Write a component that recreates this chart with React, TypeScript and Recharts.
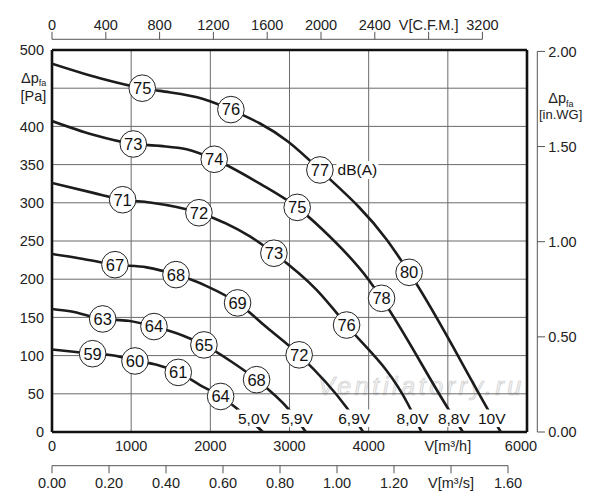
import React from 'react';
import { ComposedChart, Line, XAxis, YAxis, CartesianGrid, ReferenceLine } from 'recharts';

// ---------- data ----------
const flowTicks = [0, 1000, 2000, 3000, 4000, 5000, 6000];
const flowTickLabels = ['0', '1000', '2000', '3000', '4000', 'V[m³/h]', '6000'];
const cfmTicks = [0, 400, 800, 1200, 1600, 2000, 2400, 2800, 3200];
const cfmTickLabels = ['0', '400', '800', '1200', '1600', '2000', '2400', 'V[C.F.M.]', '3200'];
const msTicks = [0, 0.2, 0.4, 0.6, 0.8, 1.0, 1.2, 1.4, 1.6];
const msTickLabels = ['0.00', '0.20', '0.40', '0.60', '0.80', '1.00', '1.20', 'V[m³/s]', '1.60'];
const paTicks = [0, 50, 100, 150, 200, 250, 300, 350, 400, 450, 500];
const wgTicks = [0, 0.5, 1.0, 1.5, 2.0];
const wgTickLabels = ['0.00', '0.50', '1.00', '1.50', '2.00'];

const M3H_MAX = 6000;
const PA_MAX = 500;
const CFM_MAX = M3H_MAX / 1.69901;
const MS_MAX = M3H_MAX / 3600;
const WG_MAX = PA_MAX / 249.089;

// axis range anchors (no visible marks) for the secondary flow axes
const cfmRange = [{ q: 0 }, { q: CFM_MAX }];
const msRange = [{ q: 0 }, { q: MS_MAX }];

const curve5V0 = [
  { q: 0, p: 108 }, { q: 513, p: 102.5, db: 59 }, { q: 817, p: 99.5 }, { q: 1048, p: 93, db: 60 },
  { q: 1322, p: 88 }, { q: 1595, p: 78, db: 61 }, { q: 1869, p: 61.5 }, { q: 2130, p: 46.5, db: 64 },
  { q: 2332, p: 31 }, { q: 2664, p: 0, volt: '5,0V' },
];
const curve5V9 = [
  { q: 0, p: 161 }, { q: 227, p: 158 }, { q: 640, p: 148, db: 63 }, { q: 963, p: 145.5 },
  { q: 1288, p: 138, db: 64 }, { q: 1658, p: 126 }, { q: 1919, p: 114, db: 65 }, { q: 2268, p: 92 },
  { q: 2584, p: 68.5, db: 68 }, { q: 2996, p: 29 }, { q: 3207, p: 0, volt: '5,9V' },
];
const curve6V9 = [
  { q: 0, p: 233 }, { q: 395, p: 226.5 }, { q: 795, p: 219, db: 67 }, { q: 1196, p: 215.5 },
  { q: 1566, p: 206, db: 68 }, { q: 1953, p: 191 }, { q: 2344, p: 169, db: 69 }, { q: 2711, p: 137 },
  { q: 3122, p: 101, db: 72 }, { q: 3721, p: 32 }, { q: 3931, p: 0, volt: '6,9V' },
];
const curve8V0 = [
  { q: 0, p: 326 }, { q: 521, p: 313 }, { q: 892, p: 304, db: 71 }, { q: 1237, p: 300.5 },
  { q: 1856, p: 287, db: 72 }, { q: 2500, p: 256 }, { q: 2803, p: 234, db: 73 }, { q: 3342, p: 186 },
  { q: 3721, p: 140, db: 76 }, { q: 4499, p: 36 }, { q: 4668, p: 0, volt: '8,0V' },
];
const curve8V8 = [
  { q: 0, p: 407 }, { q: 521, p: 389 }, { q: 1027, p: 377, db: 73 }, { q: 1364, p: 374.5 },
  { q: 1700, p: 370 }, { q: 2049, p: 357, db: 74 }, { q: 2626, p: 325 }, { q: 3097, p: 294, db: 75 },
  { q: 3406, p: 266 }, { q: 3994, p: 200 }, { q: 4163, p: 175, db: 78 }, { q: 5013, p: 29 },
  { q: 5190, p: 0, volt: '8,8V' },
];
const curve10V = [
  { q: 0, p: 482 }, { q: 606, p: 463 }, { q: 1140, p: 450, db: 75 }, { q: 1364, p: 446.5 },
  { q: 1910, p: 436 }, { q: 2260, p: 422, db: 76 }, { q: 2984, p: 380 },
  { q: 3384, p: 343, db: 77, unit: 'dB(A)' }, { q: 4226, p: 252 }, { q: 4511, p: 209, db: 80 },
  { q: 5509, p: 29 }, { q: 5669, p: 0, volt: '10V' },
];
const curves = [curve5V0, curve5V9, curve6V9, curve8V0, curve8V8, curve10V];

// ---------- layout / style ----------
const W = 600;
const H = 500;
const LEFT_W = 52;
const RIGHT_W = 73;
const TOP_H = 50;
const BOTTOM_H1 = 24;
const BOTTOM_H2 = 44;
const PLOT_LEFT = LEFT_W;
const PLOT_BOTTOM = H - BOTTOM_H1 - BOTTOM_H2;
const FONT = '"Liberation Sans", Arial, Helvetica, sans-serif';
const FS = 14.5;
const TXT = '#222';
const AXIS = '#555';

const idxOf = (arr: number[], v: number) => arr.findIndex((a) => Math.abs(a - v) < 1e-6);

const FlowTick = (props: any) => {
  const { x, y, payload } = props;
  const i = idxOf(flowTicks, payload.value);
  const dx = payload.value === 6000 ? -6 : 0;
  return (
    <text x={x + dx} y={y + 18.7} textAnchor="middle" fontSize={FS} fontFamily={FONT} fill={TXT}>
      {flowTickLabels[i]}
    </text>
  );
};

const MsTick = (props: any) => {
  const { x, y, payload } = props;
  const i = idxOf(msTicks, payload.value);
  const ay = y + 9.7;
  return (
    <g>
      <line x1={x} y1={ay} x2={x} y2={ay + 7.6} stroke={AXIS} strokeWidth={1} />
      {i === msTicks.length - 1 && <line x1={PLOT_LEFT} y1={ay} x2={x} y2={ay} stroke={AXIS} strokeWidth={1} />}
      <text x={x} y={y + 32.3} textAnchor="middle" fontSize={FS} fontFamily={FONT} fill={TXT}>
        {msTickLabels[i]}
      </text>
    </g>
  );
};

const CfmTick = (props: any) => {
  const { x, y, payload } = props;
  const i = idxOf(cfmTicks, payload.value);
  const ay = y - 10.7;
  return (
    <g>
      <line x1={x} y1={ay} x2={x} y2={ay - 7.5} stroke={AXIS} strokeWidth={1} />
      {i === cfmTicks.length - 1 && <line x1={PLOT_LEFT} y1={ay} x2={x} y2={ay} stroke={AXIS} strokeWidth={1} />}
      <text x={x} y={y - 20.5} textAnchor="middle" fontSize={FS} fontFamily={FONT} fill={TXT}>
        {cfmTickLabels[i]}
      </text>
    </g>
  );
};

const PaTick = (props: any) => {
  const { x, y, payload } = props;
  const v = payload.value;
  if (v === 450) {
    return (
      <g fontFamily={FONT} fill={TXT}>
        <text x={x - 31} y={y - 5.3} fontSize={FS}>
          Δp<tspan fontSize={9} dy={3.5}>fa</tspan>
        </text>
        <text x={x - 31.5} y={y + 12.5} fontSize={FS}>[Pa]</text>
      </g>
    );
  }
  return (
    <text x={x - 8} y={y + 5.2} textAnchor="end" fontSize={FS} fontFamily={FONT} fill={TXT}>
      {v}
    </text>
  );
};

const WgTick = (props: any) => {
  const { x, y, payload } = props;
  const i = idxOf(wgTicks, payload.value);
  const ax = x + 10.3;
  const isTop = i === wgTicks.length - 1;
  return (
    <g fontFamily={FONT} fill={TXT}>
      <line x1={ax} y1={y} x2={ax + 7.7} y2={y} stroke={AXIS} strokeWidth={1} />
      {isTop && <line x1={ax} y1={y} x2={ax} y2={PLOT_BOTTOM} stroke={AXIS} strokeWidth={1} />}
      <text x={ax + 11} y={y + 5.2} fontSize={FS}>{wgTickLabels[i]}</text>
      {isTop && (
        <>
          <text x={ax + 11} y={y + 52} fontSize={FS}>
            Δp<tspan fontSize={9} dy={3.5}>fa</tspan>
          </text>
          <text x={ax + 1.7} y={y + 68} fontSize={13}>[in.WG]</text>
        </>
      )}
    </g>
  );
};

const renderDot = (props: any) => {
  const { cx, cy, payload, index } = props;
  if (payload.db !== undefined) {
    return (
      <g key={`c${index}`} fontFamily={FONT}>
        <circle cx={cx} cy={cy} r={13.3} fill="#fff" stroke="#222" strokeWidth={1} />
        <text x={cx} y={cy + 5.9} textAnchor="middle" fontSize={16.5} fill="#111">{payload.db}</text>
        {payload.unit && (
          <>
            <rect x={cx + 16.5} y={cy - 9} width={42} height={18} fill="#fff" />
            <text x={cx + 17.7} y={cy + 5.5} fontSize={15.5} fill="#111">{payload.unit}</text>
          </>
        )}
      </g>
    );
  }
  if (payload.volt) {
    const tx = cx - 9;
    return (
      <g key={`v${index}`} fontFamily={FONT}>
        <rect x={tx - 17} y={cy - 22.5} width={34} height={17.5} fill="#fff" />
        <text x={tx} y={cy - 8.5} textAnchor="middle" fontSize={15.5} fill="#111">{payload.volt}</text>
      </g>
    );
  }
  return <g key={`e${index}`} />;
};

const axisCommon = {
  type: 'number' as const,
  interval: 0 as const,
  allowDataOverflow: true,
  tickSize: 0,
  tickMargin: 0,
  tickLine: false,
  axisLine: false,
};

export default function App() {
  return (
    <div style={{ position: 'absolute', left: 0, top: 0, width: W, height: H, background: '#fff' }}>
      <svg width={W} height={H} style={{ position: 'absolute', left: 0, top: 0 }}>
        <text
          x={318}
          y={395}
          fontSize={25}
          fontStyle="italic"
          letterSpacing={3.6}
          fontFamily={FONT}
          fill="#f3f3f3"
          stroke="#cfcfcf"
          strokeWidth={0.7}
        >
          Ventilatorry.ru
        </text>
      </svg>
      <div style={{ position: 'absolute', left: 0, top: 0 }}>
        <ComposedChart width={W} height={H} margin={{ top: 0, right: 0, bottom: 0, left: 0 }}>
          <XAxis {...axisCommon} xAxisId="h" dataKey="q" domain={[0, M3H_MAX]} ticks={flowTicks} height={BOTTOM_H1} tick={FlowTick} />
          <XAxis {...axisCommon} xAxisId="ms" dataKey="q" orientation="bottom" domain={[0, MS_MAX]} ticks={msTicks} height={BOTTOM_H2} tick={MsTick} />
          <XAxis {...axisCommon} xAxisId="cfm" dataKey="q" orientation="top" domain={[0, CFM_MAX]} ticks={cfmTicks} height={TOP_H} tick={CfmTick} />
          <YAxis {...axisCommon} yAxisId="pa" domain={[0, PA_MAX]} ticks={paTicks} width={LEFT_W} tick={PaTick} />
          <YAxis {...axisCommon} yAxisId="wg" orientation="right" domain={[0, WG_MAX]} ticks={wgTicks} width={RIGHT_W} tick={WgTick} />
          <CartesianGrid xAxisId="h" yAxisId="pa" stroke="#6b6b6b" strokeWidth={1} fill="none" />
          <ReferenceLine xAxisId="h" yAxisId="pa" x={0} stroke="#111" strokeWidth={2.6} />
          <ReferenceLine xAxisId="h" yAxisId="pa" x={M3H_MAX} stroke="#111" strokeWidth={2.6} />
          <ReferenceLine xAxisId="h" yAxisId="pa" y={0} stroke="#111" strokeWidth={2.6} />
          <ReferenceLine xAxisId="h" yAxisId="pa" y={PA_MAX} stroke="#111" strokeWidth={2.6} />
          <Line xAxisId="cfm" yAxisId="pa" data={cfmRange} dataKey="p" stroke="none" dot={false} activeDot={false} legendType="none" isAnimationActive={false} />
          <Line xAxisId="ms" yAxisId="pa" data={msRange} dataKey="p" stroke="none" dot={false} activeDot={false} legendType="none" isAnimationActive={false} />
          {curves.map((c, k) => (
            <Line
              key={k}
              xAxisId="h"
              yAxisId="pa"
              data={c}
              dataKey="p"
              type="monotone"
              stroke="#1c1c1c"
              strokeWidth={2.6}
              dot={renderDot}
              activeDot={false}
              legendType="none"
              isAnimationActive={false}
            />
          ))}
        </ComposedChart>
      </div>
    </div>
  );
}
